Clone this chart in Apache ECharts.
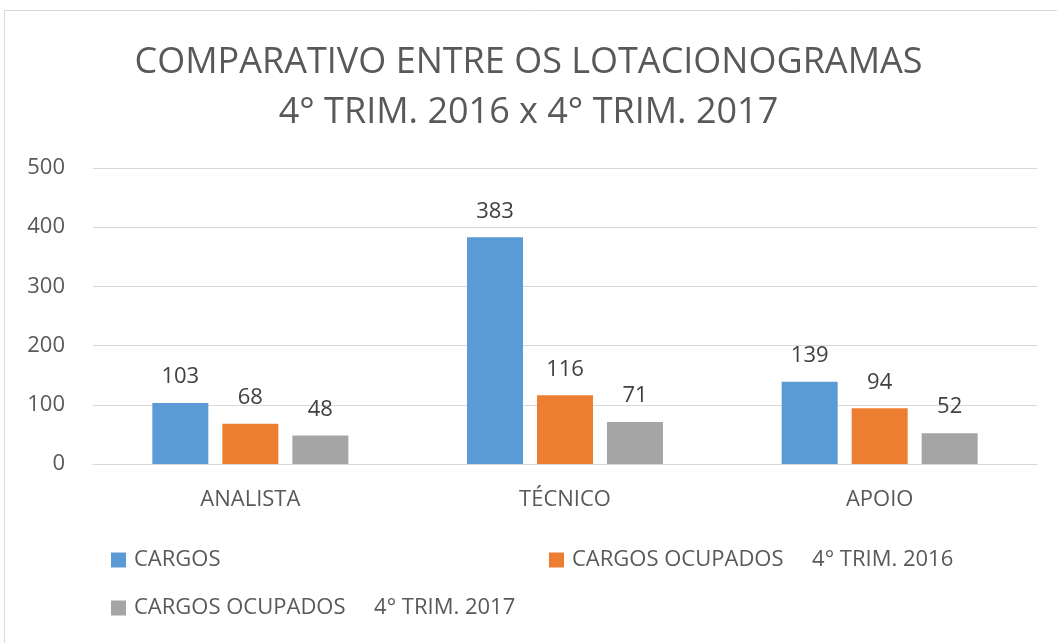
<!DOCTYPE html>
<html>
<head>
<meta charset="utf-8">
<script src="https://cdn.jsdelivr.net/npm/echarts@6/dist/echarts.min.js"></script>
<style>
  html, body { margin: 0; padding: 0; background: #fff; }
  #chart { width: 1057px; height: 643px; }
</style>
</head>
<body>
<div id="chart"></div>
<script>
// dados do gráfico
const categorias = ['ANALISTA', 'TÉCNICO', 'APOIO'];
const cargos = [103, 383, 139];
const ocupados2016 = [68, 116, 94];
const ocupados2017 = [48, 71, 52];
const nomes = ['CARGOS', 'CARGOS OCUPADOS     4° TRIM. 2016', 'CARGOS OCUPADOS     4° TRIM. 2017'];

const fonte = '"Open Sans", sans-serif';
const cinza = '#595959';

const myChart = echarts.init(document.getElementById('chart'));

function legenda(nome, left, top) {
  return {
    data: [nome],
    left: left,
    top: top,
    padding: 0,
    itemWidth: 15,
    itemHeight: 15,
    itemGap: 0,
    icon: 'rect',
    textStyle: { color: cinza, fontSize: 22, fontFamily: fonte, padding: [0, 0, 0, 3] }
  };
}

function serie(nome, valores, cor) {
  return {
    name: nome,
    type: 'bar',
    data: valores,
    barWidth: 56,
    barGap: '25%',
    itemStyle: { color: cor },
    label: {
      show: true,
      position: 'top',
      distance: 15,
      color: '#404040',
      fontSize: 22,
      fontFamily: fonte
    }
  };
}

myChart.setOption({
  animation: false,
  backgroundColor: '#fff',
  title: {
    text: 'COMPARATIVO ENTRE OS LOTACIONOGRAMAS\n4° TRIM. 2016 x 4° TRIM. 2017',
    left: 'center',
    top: 33,
    textStyle: {
      color: cinza,
      fontSize: 36,
      fontWeight: 'normal',
      fontFamily: fonte,
      lineHeight: 50
    }
  },
  graphic: [{
    type: 'rect',
    shape: { x: 4.5, y: 10.5, width: 1060, height: 640 },
    style: { fill: 'none', stroke: '#d9d9d9', lineWidth: 1 },
    silent: true
  }],
  legend: [
    legenda(nomes[0], 111, 549),
    legenda(nomes[1], 549, 549),
    legenda(nomes[2], 111, 597)
  ],
  grid: { left: 93, right: 20, top: 168, bottom: 179, containLabel: false },
  xAxis: {
    type: 'category',
    data: categorias,
    axisLine: { lineStyle: { color: '#d9d9d9', width: 1 } },
    axisTick: { show: false },
    axisLabel: { color: cinza, fontSize: 22, fontFamily: fonte, margin: 25 }
  },
  yAxis: {
    type: 'value',
    min: 0,
    max: 500,
    interval: 100,
    axisLine: { show: false },
    axisTick: { show: false },
    splitLine: { lineStyle: { color: '#d9d9d9', width: 1 } },
    axisLabel: { color: cinza, fontSize: 22, fontFamily: fonte, margin: 28 }
  },
  series: [
    serie(nomes[0], cargos, '#5b9bd5'),
    serie(nomes[1], ocupados2016, '#ed7d31'),
    serie(nomes[2], ocupados2017, '#a5a5a5')
  ]
});
</script>
</body>
</html>
